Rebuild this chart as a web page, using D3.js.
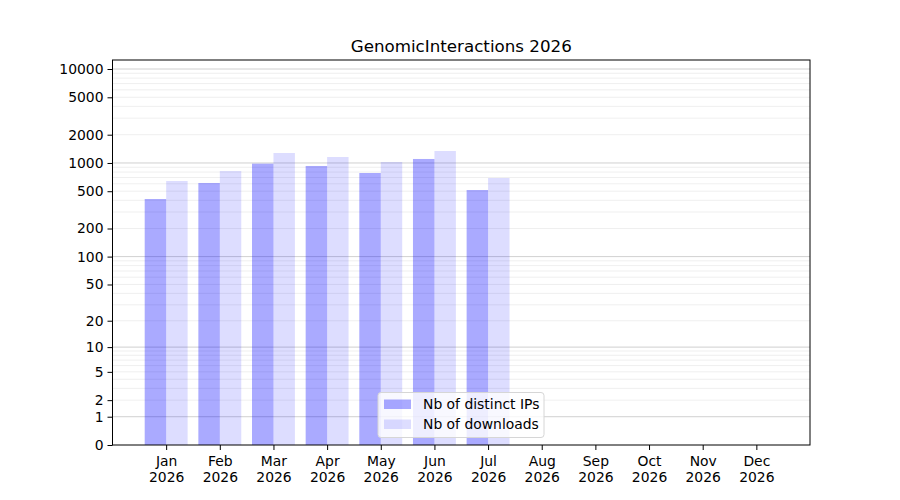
<!DOCTYPE html>
<html>
<head>
<meta charset="utf-8">
<script src="https://cdn.jsdelivr.net/npm/d3@7"></script>
<style>
  body { margin: 0; background: #fff; }
  text { font-family: "DejaVu Sans", sans-serif; fill: #000; }
</style>
</head>
<body>
<div id="chart"></div>
<script>
// Daten
const months = ["Jan", "Feb", "Mar", "Apr", "May", "Jun", "Jul", "Aug", "Sep", "Oct", "Nov", "Dec"];
const year = "2026";
const distinctIPs = [413, 612, 983, 929, 782, 1103, 515];
const downloads = [643, 821, 1277, 1158, 1024, 1341, 692];
const yTicks = [0, 1, 2, 5, 10, 20, 50, 100, 200, 500, 1000, 2000, 5000, 10000];
const majorGrid = [1, 10, 100, 1000, 10000];
const minorGrid = [];
[1, 10, 100, 1000].forEach(d => { for (let k = 2; k <= 9; k++) minorGrid.push(d * k); });

const W = 900, H = 500;
const margin = { top: 60, right: 90, bottom: 55, left: 112.5 };
const width = W - margin.left - margin.right;
const height = H - margin.top - margin.bottom;

const svg = d3.select("#chart").append("svg")
    .attr("width", W)
    .attr("height", H);

const g = svg.append("g")
    .attr("transform", `translate(${margin.left},${margin.top})`);

// Skalen
const x = d3.scaleLinear().domain([-1, 12]).range([0, width]);
const y = d3.scaleSymlog().constant(1).domain([0, 12470]).range([height, 0]);
const barW = x(0.4) - x(0);

// Gitterlinien
g.selectAll(".minor").data(minorGrid).join("line")
    .attr("x1", 0).attr("x2", width)
    .attr("y1", d => y(d)).attr("y2", d => y(d))
    .attr("stroke", "#ebebeb").attr("stroke-width", 0.8);
g.selectAll(".major").data(majorGrid).join("line")
    .attr("x1", 0).attr("x2", width)
    .attr("y1", d => y(d)).attr("y2", d => y(d))
    .attr("stroke", "#c4c4c4").attr("stroke-width", 0.8);

// Balken
g.selectAll(".ip").data(distinctIPs).join("rect")
    .attr("x", (d, i) => x(i) - barW)
    .attr("width", barW)
    .attr("y", d => y(d))
    .attr("height", d => height - y(d))
    .attr("fill", "blue").attr("fill-opacity", 0.333);
g.selectAll(".dl").data(downloads).join("rect")
    .attr("x", (d, i) => x(i))
    .attr("width", barW)
    .attr("y", d => y(d))
    .attr("height", d => height - y(d))
    .attr("fill", "blue").attr("fill-opacity", 0.133);

// Rahmen
g.append("rect").attr("width", width).attr("height", height)
    .attr("fill", "none").attr("stroke", "#000").attr("stroke-width", 1);

// Achsen
const yAxis = g.append("g")
    .call(d3.axisLeft(y).tickValues(yTicks).tickFormat(d3.format("d")).tickSize(5).tickPadding(4));
const xAxis = g.append("g")
    .attr("transform", `translate(0,${height})`)
    .call(d3.axisBottom(x).tickValues(d3.range(12)).tickFormat(i => months[i]).tickSize(5).tickPadding(6));
[xAxis, yAxis].forEach(a => {
    a.select(".domain").remove();
    a.selectAll("line").attr("stroke", "#000");
    a.selectAll("text").style("font-size", "13.9px").attr("fill", "#000");
});
xAxis.selectAll(".tick text").each(function(i) {
    const t = d3.select(this);
    t.text(null);
    t.append("tspan").attr("x", 0).text(months[i]);
    t.append("tspan").attr("x", 0).attr("dy", "1.18em").text(year);
});

// Titel
svg.append("text")
    .attr("x", margin.left + width / 2)
    .attr("y", 52)
    .attr("text-anchor", "middle")
    .style("font-size", "16.7px")
    .text("GenomicInteractions 2026");

// Legende
const legend = g.append("g").attr("transform", `translate(${378 - margin.left},${392.5 - margin.top})`);
legend.append("rect").attr("width", 166).attr("height", 45).attr("rx", 3)
    .attr("fill", "#fff").attr("fill-opacity", 0.8)
    .attr("stroke", "#d6d6d6").attr("stroke-width", 1);
const items = [["Nb of distinct IPs", 0.333], ["Nb of downloads", 0.133]];
items.forEach(([label, op], i) => {
    legend.append("rect").attr("x", 6).attr("y", 7 + i * 20)
        .attr("width", 27).attr("height", 9.5)
        .attr("fill", "blue").attr("fill-opacity", op);
    legend.append("text").attr("x", 45).attr("y", 16.5 + i * 20)
        .style("font-size", "13.9px").text(label);
});
</script>
</body>
</html>
